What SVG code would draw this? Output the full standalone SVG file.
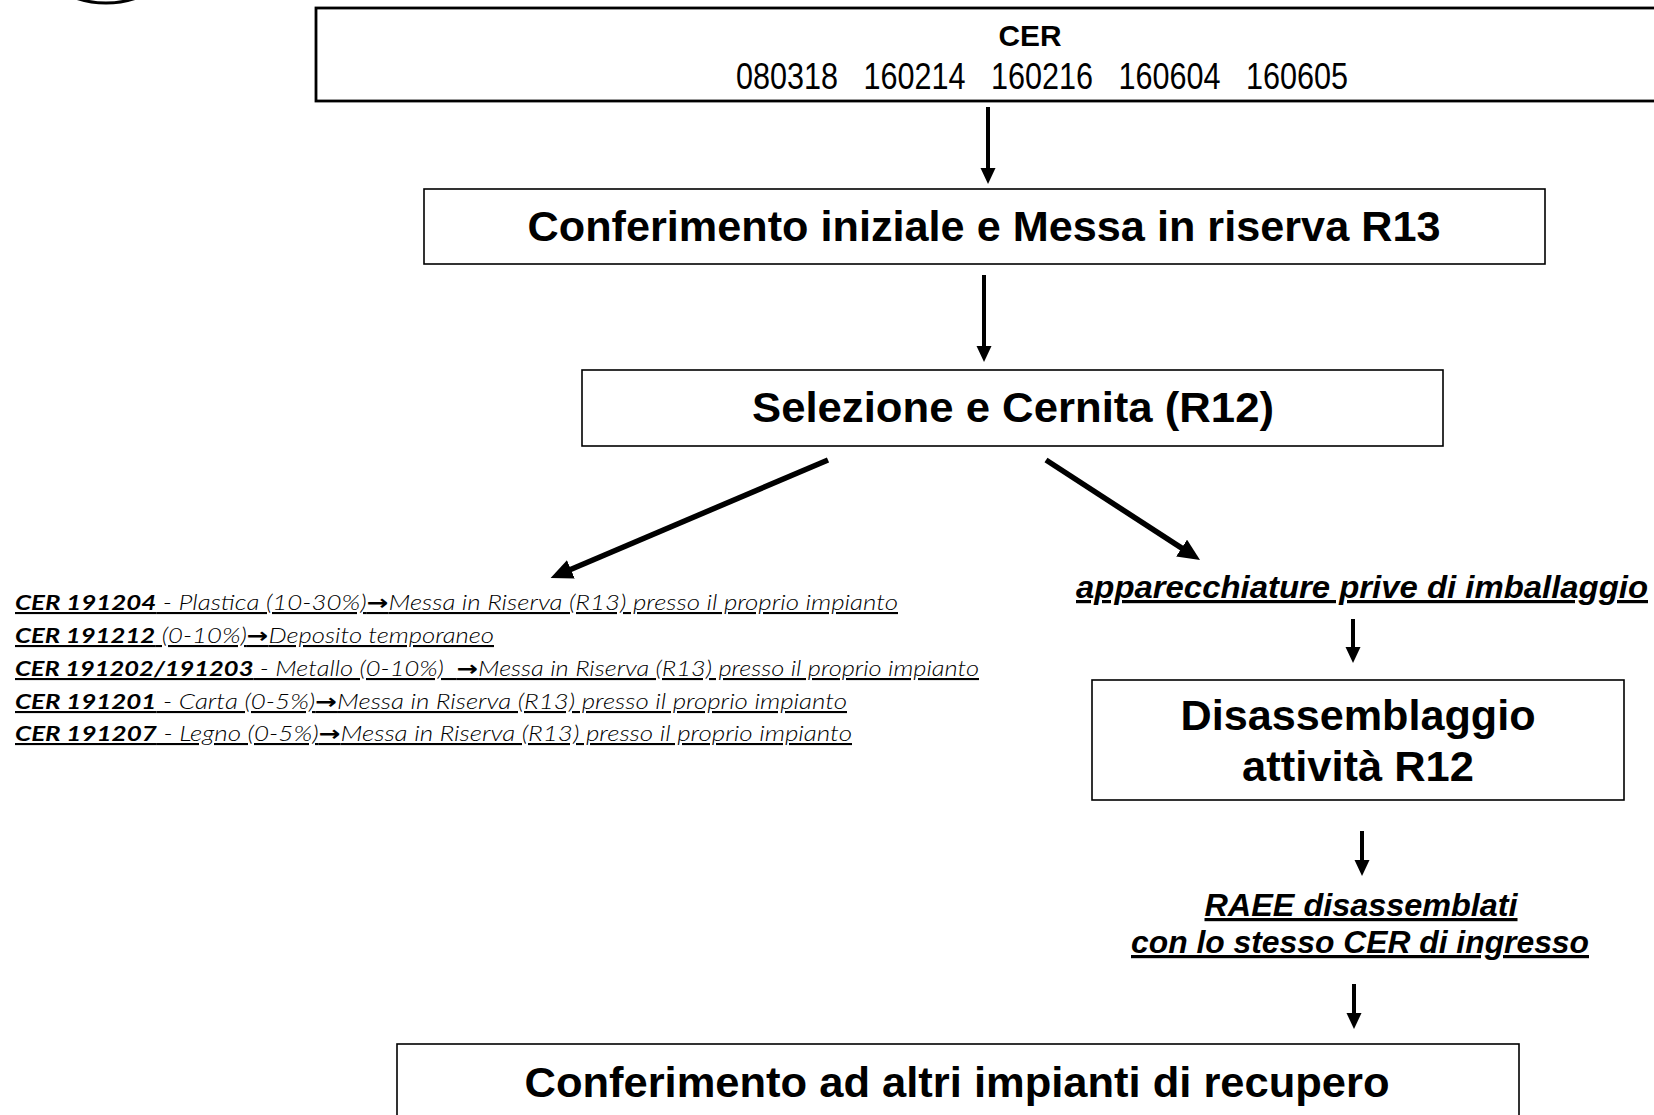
<svg xmlns="http://www.w3.org/2000/svg" width="1654" height="1115" viewBox="0 0 1654 1115">
  <style>
    .box { fill: #fff; stroke: #000; stroke-width: 1.6; }
    .box-top { fill: #fff; stroke: #000; stroke-width: 2.8; }
    .wire { stroke: #000; stroke-width: 4; fill: none; }
    .wire-diag { stroke: #000; stroke-width: 5.5; fill: none; }
    .head { font-family: "Liberation Sans", Arial, sans-serif; font-weight: bold; font-size: 43px; text-anchor: middle; fill: #000; }
    .narrow { font-family: "Liberation Sans Narrow", "Liberation Sans", Arial, sans-serif; fill: #000; }
    .label { font-family: "Liberation Sans", Arial, sans-serif; font-weight: bold; font-style: italic; font-size: 32px; text-anchor: middle; text-decoration: underline; fill: #000; }
    .out { font-family: Lato, "Open Sans", sans-serif; font-style: italic; font-weight: 300; font-size: 21px; text-decoration: underline; fill: #000; white-space: pre; }
    .out .code { font-weight: bold; }
    .out .arr { font-family: "DejaVu Sans", sans-serif; font-style: normal; font-weight: bold; }
  </style>
  <defs>
    <marker id="arrow" markerUnits="userSpaceOnUse" markerWidth="16" markerHeight="16" refX="6" refY="8" orient="auto">
      <path d="M0,0.5 L16,8 L0,15.5 z" fill="#000"/>
    </marker>
    <marker id="arrow-big" markerUnits="userSpaceOnUse" markerWidth="22" markerHeight="20" refX="8" refY="10" orient="auto">
      <path d="M0,0 L22,10 L0,20 z" fill="#000"/>
    </marker>
  </defs>

  <rect width="1654" height="1115" fill="#fff"/>

  <!-- partial ring at the top-left corner -->
  <circle cx="106" cy="-92" r="95" fill="none" stroke="#000" stroke-width="3"/>

  <g id="node-cer">
    <rect class="box-top" x="316" y="8" width="1380" height="93"/>
    <text class="narrow" x="1030" y="46" font-size="30" font-weight="bold" text-anchor="middle" textLength="63" lengthAdjust="spacingAndGlyphs">CER</text>
    <text class="narrow" x="736" y="89" font-size="36" textLength="612" lengthAdjust="spacingAndGlyphs" xml:space="preserve">080318   160214   160216   160604   160605</text>
  </g>

  <g id="node-r13">
    <rect class="box" x="424" y="189" width="1121" height="75"/>
    <text class="head" x="984" y="241" textLength="913" lengthAdjust="spacingAndGlyphs">Conferimento iniziale e Messa in riserva R13</text>
  </g>

  <g id="node-r12">
    <rect class="box" x="582" y="370" width="861" height="76"/>
    <text class="head" x="1013" y="422" textLength="522" lengthAdjust="spacingAndGlyphs">Selezione e Cernita (R12)</text>
  </g>

  <g id="node-outputs">
    <text class="out" x="15" y="610" textLength="883" lengthAdjust="spacingAndGlyphs"><tspan class="code">CER 191204</tspan> - Plastica (10-30%)<tspan class="arr">→</tspan>Messa in Riserva (R13) presso il proprio impianto</text>
    <text class="out" x="15" y="643" textLength="479" lengthAdjust="spacingAndGlyphs"><tspan class="code">CER 191212</tspan> (0-10%)<tspan class="arr">→</tspan>Deposito temporaneo</text>
    <text class="out" x="15" y="676" textLength="964" lengthAdjust="spacingAndGlyphs"><tspan class="code">CER 191202/191203</tspan> - Metallo (0-10%)  <tspan class="arr">→</tspan>Messa in Riserva (R13) presso il proprio impianto</text>
    <text class="out" x="15" y="709" textLength="832" lengthAdjust="spacingAndGlyphs"><tspan class="code">CER 191201</tspan> - Carta (0-5%)<tspan class="arr">→</tspan>Messa in Riserva (R13) presso il proprio impianto</text>
    <text class="out" x="15" y="741" textLength="837" lengthAdjust="spacingAndGlyphs"><tspan class="code">CER 191207</tspan> - Legno (0-5%)<tspan class="arr">→</tspan>Messa in Riserva (R13) presso il proprio impianto</text>
  </g>

  <g id="node-apparecchiature">
    <text class="label" x="1362" y="598" textLength="572" lengthAdjust="spacingAndGlyphs">apparecchiature prive di imballaggio</text>
  </g>

  <g id="node-disassemblaggio">
    <rect class="box" x="1092" y="680" width="532" height="120"/>
    <text class="head" x="1358" y="730" textLength="355" lengthAdjust="spacingAndGlyphs">Disassemblaggio</text>
    <text class="head" x="1358" y="781" textLength="232" lengthAdjust="spacingAndGlyphs">attività R12</text>
  </g>

  <g id="node-raee">
    <text class="label" x="1361" y="916" textLength="313" lengthAdjust="spacingAndGlyphs">RAEE disassemblati</text>
    <text class="label" x="1360" y="953" textLength="458" lengthAdjust="spacingAndGlyphs">con lo stesso CER di ingresso</text>
  </g>

  <g id="node-recupero">
    <rect class="box" x="397" y="1044" width="1122" height="100"/>
    <text class="head" x="957" y="1097" textLength="865" lengthAdjust="spacingAndGlyphs">Conferimento ad altri impianti di recupero</text>
  </g>

  <g id="connectors">
    <line class="wire" x1="988" y1="107" x2="988" y2="174" marker-end="url(#arrow)"/>
    <line class="wire" x1="984" y1="275" x2="984" y2="352" marker-end="url(#arrow)"/>
    <line class="wire-diag" x1="828" y1="460" x2="563.5" y2="572.5" marker-end="url(#arrow-big)"/>
    <line class="wire-diag" x1="1046" y1="460" x2="1188.3" y2="552.4" marker-end="url(#arrow-big)"/>
    <line class="wire" x1="1353" y1="619" x2="1353" y2="653" marker-end="url(#arrow)"/>
    <line class="wire" x1="1362" y1="831" x2="1362" y2="866" marker-end="url(#arrow)"/>
    <line class="wire" x1="1354" y1="984" x2="1354" y2="1019" marker-end="url(#arrow)"/>
  </g>
</svg>
